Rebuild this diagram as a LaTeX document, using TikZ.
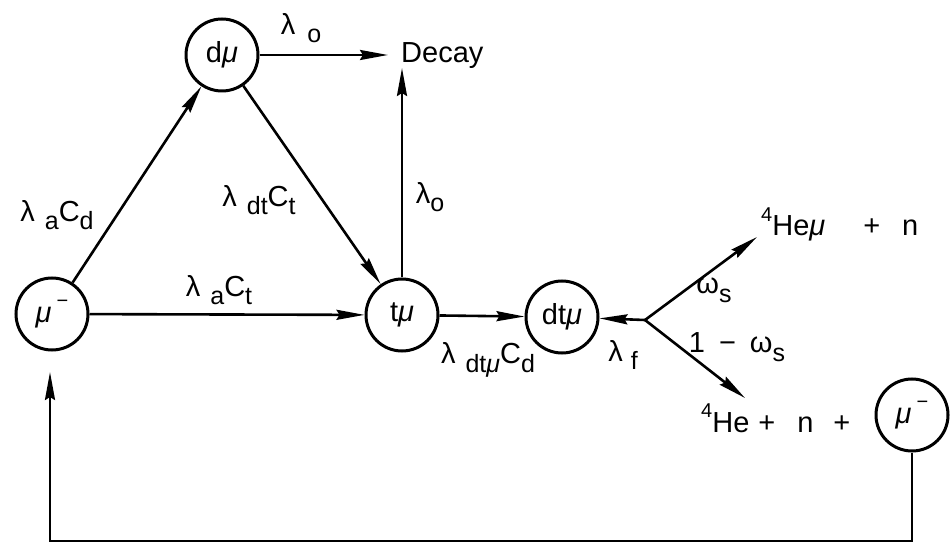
\documentclass[tikz,border=0pt]{standalone}
\usepackage{fontspec}
\setmainfont{Liberation Sans}
\usetikzlibrary{arrows.meta}
\newcommand{\lw}[1]{\raisebox{-0.3em}{\fontsize{25}{25}\selectfont #1}}
\newcommand{\hi}[1]{\raisebox{0.5em}{\fontsize{20}{20}\selectfont #1}}
\newcommand{\mym}{{\itshape μ}}
\begin{document}
\begin{tikzpicture}[x=1pt,y=-1pt,font=\fontsize{29}{34}\selectfont,
  state/.style={circle,draw,line width=3pt,minimum size=72pt,inner sep=0pt},
  arr/.style={line width=2.6pt,-{Stealth[length=28pt,width=10pt,inset=3pt]}},
  lbl/.style={inner sep=0pt}]
\useasboundingbox (0,0) rectangle (950,545);
% states
\node[state] (mu1) at (52,314) {\mym\hspace{5pt}\hi{−}};
\node[state] (dmu) at (222,55) {d\mym};
\node[state] (tmu) at (402,315) {t\mym};
\node[state] (dtmu) at (562,317) {dt\mym};
\node[state] (mu2) at (912,415) {\mym\hspace{5pt}\hi{−}};
\node[lbl,anchor=base west] (decay) at (401,63) {Decay};
\node[lbl,anchor=base west] (hemu) at (761,236) {\hi{4}He\mym\hspace{38pt}+\hspace{22pt}n};
\node[lbl,anchor=base west] (he) at (701,432) {\hi{4}He\hspace{9pt}+\hspace{22pt}n\hspace{20pt}+};
% coordinates
\coordinate (dA) at (388,55);
\coordinate (dB) at (402,68);
\coordinate (br) at (645,320);
\coordinate (up) at (757,237);
\coordinate (dn) at (745,398);
\coordinate (c2) at (50,541);
\coordinate (c3) at (50,372);
% connectors
\draw[arr] (mu1) -- (dmu);
\draw[arr] (dmu) -- (tmu);
\draw[arr] (mu1) -- (tmu);
\draw[arr] (tmu) -- (dtmu);
\draw[arr] (dmu) -- (dA);
\draw[arr] (tmu) -- (dB);
\draw[arr] (br) -- (dtmu);
\draw[arr] (br) -- (up);
\draw[arr] (br) -- (dn);
\draw[arr] (mu2) |- (c2) -- (c3);
% labels
\node[lbl] (l1) at (301,28) {λ\hspace{12pt}\lw{o}};
\node[lbl] (l2) at (57,215) {λ\hspace{10pt}\lw{a}C\lw{d}};
\node[lbl] (l3) at (259,200) {λ\hspace{10pt}\lw{dt}C\lw{t}};
\node[lbl] (l4) at (430,197) {λ\lw{o}};
\node[lbl] (l5) at (219,290) {λ\hspace{10pt}\lw{a}C\lw{t}};
\node[lbl] (l6) at (488,360) {λ\hspace{10pt}\lw{dt\mym}C\lw{d}};
\node[lbl] (l7) at (623,355) {λ\hspace{8pt}\lw{f}};
\node[lbl] (l8) at (714,290) {ω\lw{s}};
\node[lbl] (l9) at (737,347) {1\hspace{14pt}−\hspace{14pt}ω\lw{s}};
\end{tikzpicture}
\end{document}
